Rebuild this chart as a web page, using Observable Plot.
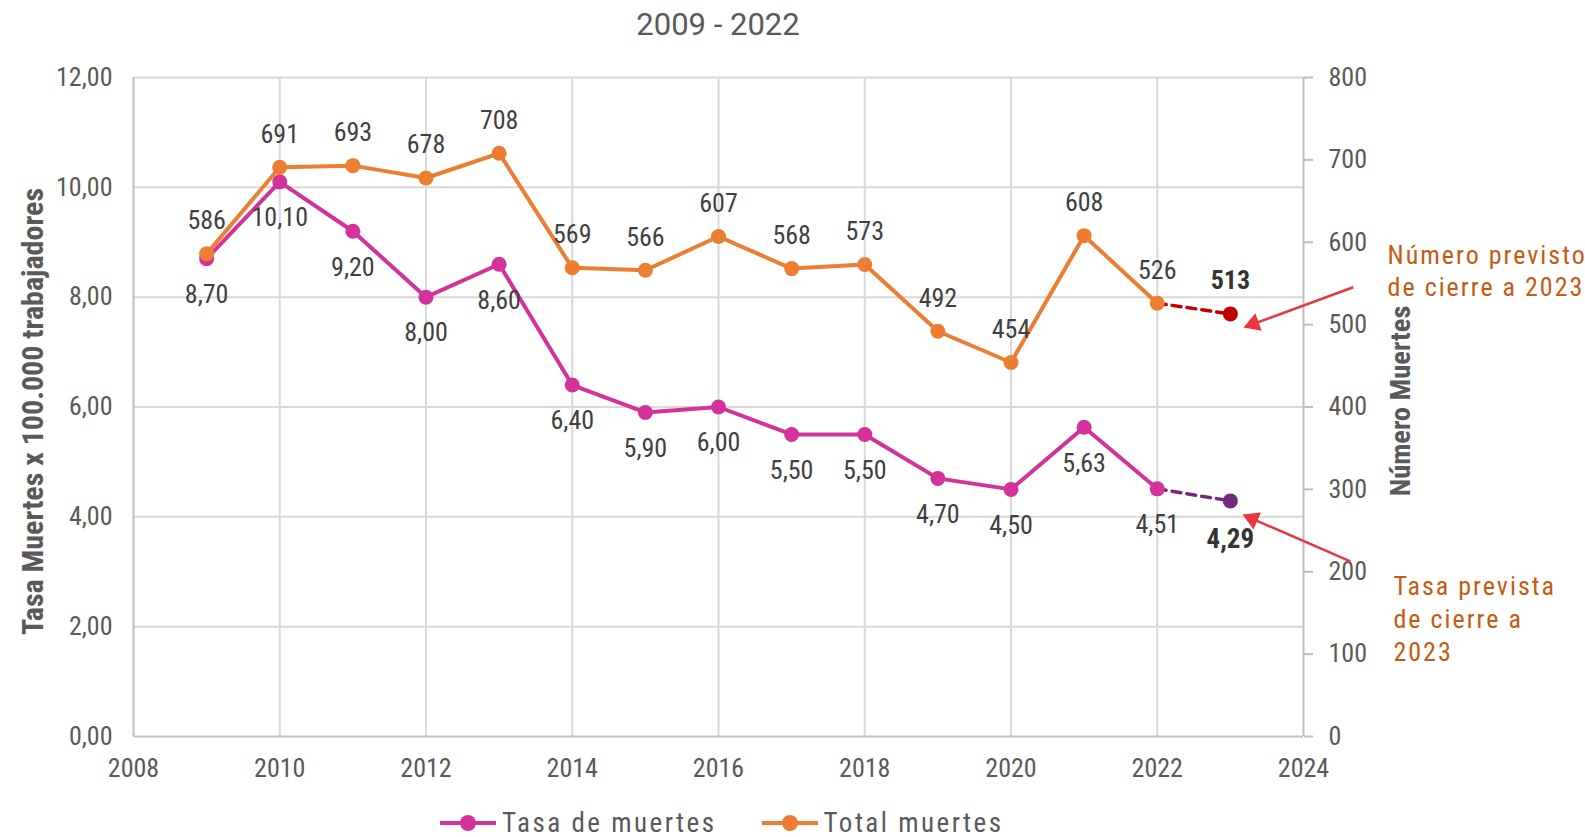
<!DOCTYPE html>
<html>
<head>
<meta charset="utf-8">
<script src="https://cdn.jsdelivr.net/npm/d3@7"></script>
<script src="https://cdn.jsdelivr.net/npm/@observablehq/plot@0.6"></script>
<style>
  html, body { margin: 0; padding: 0; background: #fff; overflow: hidden; }
  body { width: 1585px; height: 837px; font-family: 'Roboto Condensed', 'Liberation Sans Narrow', 'Arial Narrow', Roboto, sans-serif; }
  #title { height: 50px; line-height: 50px; margin-left: 133px; width: 1170px; text-align: center; font-family: Roboto, sans-serif; font-size: 31px; color: #595959; }
  #legend { height: 47px; box-sizing: border-box; padding-top: 19px; padding-left: 440px; display: flex; align-items: center; font-size: 27px; color: #595959; letter-spacing: 2.5px; }
  .item { display: flex; align-items: center; margin-right: 45px; }
  .item svg { margin-right: 6px; }
</style>
</head>
<body>
<div id="title">2009 - 2022</div>
<div id="chart"></div>
<div id="legend"></div>
<script>
const years = [2009, 2010, 2011, 2012, 2013, 2014, 2015, 2016, 2017, 2018, 2019, 2020, 2021, 2022];
const tasa = [8.70, 10.10, 9.20, 8.00, 8.60, 6.40, 5.90, 6.00, 5.50, 5.50, 4.70, 4.50, 5.63, 4.51];
const total = [586, 691, 693, 678, 708, 569, 566, 607, 568, 573, 492, 454, 608, 526];
const forecastYear = 2023;
const tasaForecast = 4.29;
const totalForecast = 513;
const xTicks = [2008, 2010, 2012, 2014, 2016, 2018, 2020, 2022, 2024];
const leftTicks = [0, 2, 4, 6, 8, 10, 12];
const rightTicks = [0, 100, 200, 300, 400, 500, 600, 700, 800];
const seriesNames = ["Tasa de muertes", "Total muertes"];
const leftTitle = "Tasa Muertes x 100.000 trabajadores";
const rightTitle = "Número Muertes";
const notes = [
  {x: 2025.15, y: 8.50, text: "Número previsto\nde cierre a 2023"},
  {x: 2025.23, y: 2.17, text: "Tasa prevista\nde cierre a\n2023"}
];
const arrows = [
  {x1: 2024.68, y1: 8.18, x2: 2023.316, y2: 7.513, angle: 250},
  {x1: 2024.64, y1: 3.19, x2: 2023.30, y2: 3.964, angle: 293.5}
];

const FONT = "'Roboto Condensed', 'Liberation Sans Narrow', 'Arial Narrow', Roboto, sans-serif";
const C_TASA = "#D4329A", C_TOTAL = "#ED7D31", C_TOTAL_FC = "#C00000", C_TASA_FC = "#742A7A";
const C_NOTE = "#C55A11", C_ARROW = "#E8383D";
const R = 12 / 800;
const fmt = d => d.toFixed(2).replace(".", ",");

const tasaData = years.map((year, i) => ({year, value: tasa[i]}));
const totalData = years.map((year, i) => ({year, value: total[i], y: total[i] * R}));
const last = years.length - 1;
const tasaFc = [{year: years[last], value: tasa[last]}, {year: forecastYear, value: tasaForecast}];
const totalFc = [{year: years[last], y: total[last] * R}, {year: forecastYear, value: totalForecast, y: totalForecast * R}];

const plot = Plot.plot({
  width: 1585,
  height: 740,
  marginTop: 27,
  marginBottom: 54,
  marginLeft: 133,
  marginRight: 282,
  style: {fontFamily: FONT, fontSize: "26px", color: "#595959", background: "transparent", overflow: "visible"},
  x: {domain: [2008, 2024]},
  y: {domain: [0, 12]},
  marks: [
    Plot.gridY(leftTicks.slice(1), {stroke: "#d9d9d9", strokeOpacity: 1, strokeWidth: 2}),
    Plot.gridX(xTicks.slice(1, -1), {stroke: "#d9d9d9", strokeOpacity: 1, strokeWidth: 2}),
    Plot.ruleX([xTicks[0], xTicks[xTicks.length - 1]], {stroke: "#bfbfbf", strokeWidth: 2}),
    Plot.ruleY([0], {stroke: "#bfbfbf", strokeWidth: 2}),
    Plot.axisX(xTicks, {tickSize: 0, tickPadding: 22, tickFormat: d => String(d), label: null, fill: "#595959"}),
    Plot.axisY(leftTicks, {anchor: "left", tickSize: 0, tickPadding: 21, tickFormat: fmt, label: null, fill: "#595959"}),
    Plot.axisY(rightTicks.map(t => t * R), {anchor: "right", tickSize: 9, tickPadding: 16, stroke: "#bfbfbf", strokeWidth: 2, fill: "#595959", tickFormat: d => String(Math.round(d / R)), label: null}),
    Plot.text([leftTitle], {frameAnchor: "left", textAnchor: "middle", lineAnchor: "middle", rotate: -90, dx: -100, dy: 4.5, fontSize: 30, fontWeight: "bold", fill: "#595959"}),
    Plot.text([rightTitle], {frameAnchor: "right", textAnchor: "middle", lineAnchor: "middle", rotate: -90, dx: 97, dy: -6, fontSize: 28.5, fontWeight: "bold", fill: "#595959"}),
    // Tasa series
    Plot.line(tasaData, {x: "year", y: "value", stroke: C_TASA, strokeWidth: 4}),
    Plot.line(tasaFc, {x: "year", y: "value", stroke: C_TASA_FC, strokeWidth: 3.5, strokeDasharray: "9,6"}),
    Plot.dot(tasaData, {x: "year", y: "value", r: 7.5, fill: C_TASA}),
    Plot.dot(tasaFc.slice(1), {x: "year", y: "value", r: 7.5, fill: C_TASA_FC}),
    // Total series
    Plot.line(totalData, {x: "year", y: "y", stroke: C_TOTAL, strokeWidth: 4}),
    Plot.line(totalFc, {x: "year", y: "y", stroke: C_TOTAL_FC, strokeWidth: 3.5, strokeDasharray: "9,6"}),
    Plot.dot(totalData, {x: "year", y: "y", r: 7.5, fill: C_TOTAL}),
    Plot.dot(totalFc.slice(1), {x: "year", y: "y", r: 7.5, fill: C_TOTAL_FC}),
    // Labels
    Plot.text(totalData, {x: "year", y: "y", text: d => String(d.value), dy: -33, fontSize: 26, fill: "#404040"}),
    Plot.text(tasaData, {x: "year", y: "value", text: d => fmt(d.value), dy: 36, fontSize: 26, fill: "#404040"}),
    Plot.text(totalFc.slice(1), {x: "year", y: "y", text: d => String(d.value), dy: -33, fontSize: 26, fontWeight: "bold", fill: "#333333"}),
    Plot.text(tasaFc.slice(1), {x: "year", y: "value", text: d => fmt(d.value), dy: 38, fontSize: 27, fontWeight: "bold", fill: "#333333"}),
    // Annotations
    Plot.link(arrows, {x1: "x1", y1: "y1", x2: "x2", y2: "y2", stroke: C_ARROW, strokeWidth: 2.5}),
    Plot.dot(arrows, {x: "x2", y: "y2", symbol: "triangle", r: 6.9, fill: C_ARROW, rotate: "angle"}),
    Plot.text(notes.slice(0, 1), {x: "x", y: "y", text: "text", textAnchor: "start", lineAnchor: "middle", lineHeight: 1.23, fontSize: 26, fill: C_NOTE}),
    Plot.text(notes.slice(1), {x: "x", y: "y", text: "text", textAnchor: "start", lineAnchor: "middle", lineHeight: 1.27, fontSize: 26, fill: C_NOTE})
  ]
});
d3.select(plot).selectAll(`g[fill="${C_NOTE}"]`).style("letter-spacing", "2px");
document.getElementById("chart").appendChild(plot);

const legend = document.getElementById("legend");
[[seriesNames[0], C_TASA], [seriesNames[1], C_TOTAL]].forEach(([name, color]) => {
  const item = document.createElement("div");
  item.className = "item";
  item.innerHTML = `<svg width="56" height="20"><line x1="0" y1="10" x2="56" y2="10" stroke="${color}" stroke-width="4"/><circle cx="28" cy="10" r="8" fill="${color}"/></svg><span>${name}</span>`;
  legend.appendChild(item);
});
</script>
</body>
</html>
